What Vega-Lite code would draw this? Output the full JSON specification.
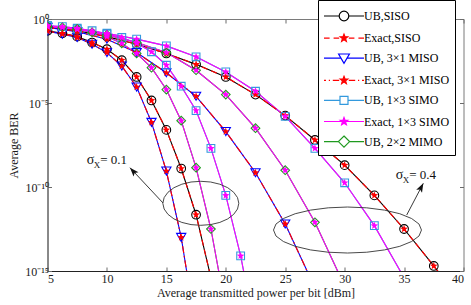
{
"$schema":"https://vega.github.io/schema/vega-lite/v6.json",
"width":416,"height":252,
"autosize":{"type":"none"},
"padding":{"left":47.5,"top":19,"right":7.5,"bottom":34},
"background":"white",
"config":{
 "view":{"stroke":"#7a7a7a","strokeWidth":1},
 "axis":{"labelFont":"Liberation Serif","titleFont":"Liberation Serif","labelFontSize":12,"titleFontSize":12,"labelColor":"#1a1a1a","titleColor":"#1a1a1a","titleFontWeight":"normal","grid":false,"tickColor":"#6a6a6a","domainColor":"#3a3a3a","tickSize":-4}
},
"datasets":{
"ber":[
{"s":"UB,SISO","g":1,"x":5,"y":0.1995},{"s":"UB,SISO","g":1,"x":6.25,"y":0.1413},{"s":"UB,SISO","g":1,"x":7.5,"y":0.08913},{"s":"UB,SISO","g":1,"x":8.75,"y":0.03981},{"s":"UB,SISO","g":1,"x":10,"y":0.01585},{"s":"UB,SISO","g":1,"x":11.25,"y":3.548e-3},{"s":"UB,SISO","g":1,"x":12.5,"y":3.548e-4},{"s":"UB,SISO","g":1,"x":13.75,"y":1.413e-5},{"s":"UB,SISO","g":1,"x":15,"y":2.512e-7},{"s":"UB,SISO","g":1,"x":16.25,"y":1.259e-9},{"s":"UB,SISO","g":1,"x":17.5,"y":2.239e-12},{"s":"UB,SISO","g":1,"x":18.75,"y":3.981e-16},
{"s":"UB,SISO","g":4,"x":5,"y":0.3162},{"s":"UB,SISO","g":4,"x":7.5,"y":0.1995},{"s":"UB,SISO","g":4,"x":10,"y":0.08913},{"s":"UB,SISO","g":4,"x":12.5,"y":0.03162},{"s":"UB,SISO","g":4,"x":15,"y":8.913e-3},{"s":"UB,SISO","g":4,"x":17.5,"y":1.995e-3},{"s":"UB,SISO","g":4,"x":20,"y":3.548e-4},{"s":"UB,SISO","g":4,"x":22.5,"y":3.162e-5},{"s":"UB,SISO","g":4,"x":25,"y":1.778e-6},{"s":"UB,SISO","g":4,"x":27.5,"y":6.31e-8},{"s":"UB,SISO","g":4,"x":30,"y":1.995e-9},{"s":"UB,SISO","g":4,"x":32.5,"y":3.162e-11},{"s":"UB,SISO","g":4,"x":35,"y":3.162e-13},{"s":"UB,SISO","g":4,"x":37.5,"y":1.995e-15},{"s":"UB,SISO","g":4,"x":40,"y":1e-17},
{"s":"UB, 3×1 MISO","g":1,"x":5,"y":0.19},{"s":"UB, 3×1 MISO","g":1,"x":6.25,"y":0.1259},{"s":"UB, 3×1 MISO","g":1,"x":7.5,"y":0.07943},{"s":"UB, 3×1 MISO","g":1,"x":8.75,"y":0.03162},{"s":"UB, 3×1 MISO","g":1,"x":10,"y":0.01},{"s":"UB, 3×1 MISO","g":1,"x":11.25,"y":1.585e-3},{"s":"UB, 3×1 MISO","g":1,"x":12.5,"y":8.913e-5},{"s":"UB, 3×1 MISO","g":1,"x":13.75,"y":7.079e-7},{"s":"UB, 3×1 MISO","g":1,"x":15,"y":8.913e-10},{"s":"UB, 3×1 MISO","g":1,"x":16.25,"y":1e-13},{"s":"UB, 3×1 MISO","g":1,"x":17.5,"y":3.162e-19},
{"s":"UB, 3×1 MISO","g":4,"x":5,"y":0.3162},{"s":"UB, 3×1 MISO","g":4,"x":7.5,"y":0.1778},{"s":"UB, 3×1 MISO","g":4,"x":10,"y":0.0631},{"s":"UB, 3×1 MISO","g":4,"x":12.5,"y":0.01},{"s":"UB, 3×1 MISO","g":4,"x":15,"y":6.31e-4},{"s":"UB, 3×1 MISO","g":4,"x":17.5,"y":2.512e-5},{"s":"UB, 3×1 MISO","g":4,"x":20,"y":1.995e-7},{"s":"UB, 3×1 MISO","g":4,"x":22.5,"y":7.079e-10},{"s":"UB, 3×1 MISO","g":4,"x":25,"y":6.31e-13},{"s":"UB, 3×1 MISO","g":4,"x":27.5,"y":1e-16},
{"s":"UB, 1×3 SIMO","g":1,"x":5,"y":0.3981},{"s":"UB, 1×3 SIMO","g":1,"x":6.25,"y":0.3548},{"s":"UB, 1×3 SIMO","g":1,"x":7.5,"y":0.2818},{"s":"UB, 1×3 SIMO","g":1,"x":8.75,"y":0.1995},{"s":"UB, 1×3 SIMO","g":1,"x":10,"y":0.1259},{"s":"UB, 1×3 SIMO","g":1,"x":11.25,"y":0.07943},{"s":"UB, 1×3 SIMO","g":1,"x":12.5,"y":0.03548},{"s":"UB, 1×3 SIMO","g":1,"x":13.75,"y":0.01122},{"s":"UB, 1×3 SIMO","g":1,"x":15,"y":1.778e-3},{"s":"UB, 1×3 SIMO","g":1,"x":16.25,"y":1e-4},{"s":"UB, 1×3 SIMO","g":1,"x":17.5,"y":3.548e-6},{"s":"UB, 1×3 SIMO","g":1,"x":18.75,"y":1.995e-8},{"s":"UB, 1×3 SIMO","g":1,"x":20,"y":3.162e-11},{"s":"UB, 1×3 SIMO","g":1,"x":21.25,"y":7.943e-15},{"s":"UB, 1×3 SIMO","g":1,"x":22.5,"y":2.512e-19},
{"s":"UB, 1×3 SIMO","g":4,"x":5,"y":0.3981},{"s":"UB, 1×3 SIMO","g":4,"x":7.5,"y":0.2512},{"s":"UB, 1×3 SIMO","g":4,"x":10,"y":0.1413},{"s":"UB, 1×3 SIMO","g":4,"x":12.5,"y":0.0631},{"s":"UB, 1×3 SIMO","g":4,"x":15,"y":0.02512},{"s":"UB, 1×3 SIMO","g":4,"x":17.5,"y":5.623e-3},{"s":"UB, 1×3 SIMO","g":4,"x":20,"y":7.079e-4},{"s":"UB, 1×3 SIMO","g":4,"x":22.5,"y":5.012e-5},{"s":"UB, 1×3 SIMO","g":4,"x":25,"y":1.585e-6},{"s":"UB, 1×3 SIMO","g":4,"x":27.5,"y":1.995e-8},{"s":"UB, 1×3 SIMO","g":4,"x":30,"y":1.778e-10},{"s":"UB, 1×3 SIMO","g":4,"x":32.5,"y":5.012e-13},{"s":"UB, 1×3 SIMO","g":4,"x":35,"y":3.981e-16},
{"s":"UB, 2×2 MIMO","g":1,"x":5,"y":0.3548},{"s":"UB, 2×2 MIMO","g":1,"x":6.25,"y":0.3162},{"s":"UB, 2×2 MIMO","g":1,"x":7.5,"y":0.2512},{"s":"UB, 2×2 MIMO","g":1,"x":8.75,"y":0.1585},{"s":"UB, 2×2 MIMO","g":1,"x":10,"y":0.08913},{"s":"UB, 2×2 MIMO","g":1,"x":11.25,"y":0.03548},{"s":"UB, 2×2 MIMO","g":1,"x":12.5,"y":8.913e-3},{"s":"UB, 2×2 MIMO","g":1,"x":13.75,"y":1.259e-3},{"s":"UB, 2×2 MIMO","g":1,"x":15,"y":6.31e-5},{"s":"UB, 2×2 MIMO","g":1,"x":16.25,"y":8.913e-7},{"s":"UB, 2×2 MIMO","g":1,"x":17.5,"y":1.413e-9},{"s":"UB, 2×2 MIMO","g":1,"x":18.75,"y":3.162e-13},{"s":"UB, 2×2 MIMO","g":1,"x":20,"y":5.012e-18},
{"s":"UB, 2×2 MIMO","g":4,"x":5,"y":0.3548},{"s":"UB, 2×2 MIMO","g":4,"x":7.5,"y":0.2512},{"s":"UB, 2×2 MIMO","g":4,"x":10,"y":0.1122},{"s":"UB, 2×2 MIMO","g":4,"x":12.5,"y":0.03981},{"s":"UB, 2×2 MIMO","g":4,"x":15,"y":0.01},{"s":"UB, 2×2 MIMO","g":4,"x":17.5,"y":8.913e-4},{"s":"UB, 2×2 MIMO","g":4,"x":20,"y":3.162e-5},{"s":"UB, 2×2 MIMO","g":4,"x":22.5,"y":3.162e-7},{"s":"UB, 2×2 MIMO","g":4,"x":25,"y":1e-9},{"s":"UB, 2×2 MIMO","g":4,"x":27.5,"y":7.943e-13},{"s":"UB, 2×2 MIMO","g":4,"x":30,"y":1.259e-16},
{"s":"Exact,SISO","g":1,"x":5,"y":0.1995},{"s":"Exact,SISO","g":1,"x":6.25,"y":0.1413},{"s":"Exact,SISO","g":1,"x":7.5,"y":0.08913},{"s":"Exact,SISO","g":1,"x":8.75,"y":0.03981},{"s":"Exact,SISO","g":1,"x":10,"y":0.01585},{"s":"Exact,SISO","g":1,"x":11.25,"y":3.548e-3},{"s":"Exact,SISO","g":1,"x":12.5,"y":3.548e-4},{"s":"Exact,SISO","g":1,"x":13.75,"y":1.413e-5},{"s":"Exact,SISO","g":1,"x":15,"y":2.512e-7},{"s":"Exact,SISO","g":1,"x":16.25,"y":1.259e-9},{"s":"Exact,SISO","g":1,"x":17.5,"y":2.239e-12},{"s":"Exact,SISO","g":1,"x":18.75,"y":3.981e-16},
{"s":"Exact,SISO","g":4,"x":5,"y":0.3162},{"s":"Exact,SISO","g":4,"x":7.5,"y":0.1995},{"s":"Exact,SISO","g":4,"x":10,"y":0.08913},{"s":"Exact,SISO","g":4,"x":12.5,"y":0.03162},{"s":"Exact,SISO","g":4,"x":15,"y":8.913e-3},{"s":"Exact,SISO","g":4,"x":17.5,"y":1.995e-3},{"s":"Exact,SISO","g":4,"x":20,"y":3.548e-4},{"s":"Exact,SISO","g":4,"x":22.5,"y":3.162e-5},{"s":"Exact,SISO","g":4,"x":25,"y":1.778e-6},{"s":"Exact,SISO","g":4,"x":27.5,"y":6.31e-8},{"s":"Exact,SISO","g":4,"x":30,"y":1.995e-9},{"s":"Exact,SISO","g":4,"x":32.5,"y":3.162e-11},{"s":"Exact,SISO","g":4,"x":35,"y":3.162e-13},{"s":"Exact,SISO","g":4,"x":37.5,"y":1.995e-15},{"s":"Exact,SISO","g":4,"x":40,"y":1e-17},
{"s":"Exact, 3×1 MISO","g":1,"x":5,"y":0.19},{"s":"Exact, 3×1 MISO","g":1,"x":6.25,"y":0.1259},{"s":"Exact, 3×1 MISO","g":1,"x":7.5,"y":0.07943},{"s":"Exact, 3×1 MISO","g":1,"x":8.75,"y":0.03162},{"s":"Exact, 3×1 MISO","g":1,"x":10,"y":0.01},{"s":"Exact, 3×1 MISO","g":1,"x":11.25,"y":1.585e-3},{"s":"Exact, 3×1 MISO","g":1,"x":12.5,"y":8.913e-5},{"s":"Exact, 3×1 MISO","g":1,"x":13.75,"y":7.079e-7},{"s":"Exact, 3×1 MISO","g":1,"x":15,"y":8.913e-10},{"s":"Exact, 3×1 MISO","g":1,"x":16.25,"y":1e-13},{"s":"Exact, 3×1 MISO","g":1,"x":17.5,"y":3.162e-19},
{"s":"Exact, 3×1 MISO","g":4,"x":5,"y":0.3162},{"s":"Exact, 3×1 MISO","g":4,"x":7.5,"y":0.1778},{"s":"Exact, 3×1 MISO","g":4,"x":10,"y":0.0631},{"s":"Exact, 3×1 MISO","g":4,"x":12.5,"y":0.01},{"s":"Exact, 3×1 MISO","g":4,"x":15,"y":6.31e-4},{"s":"Exact, 3×1 MISO","g":4,"x":17.5,"y":2.512e-5},{"s":"Exact, 3×1 MISO","g":4,"x":20,"y":1.995e-7},{"s":"Exact, 3×1 MISO","g":4,"x":22.5,"y":7.079e-10},{"s":"Exact, 3×1 MISO","g":4,"x":25,"y":6.31e-13},{"s":"Exact, 3×1 MISO","g":4,"x":27.5,"y":1e-16},
{"s":"Exact, 1×3 SIMO","g":1,"x":5,"y":0.3981},{"s":"Exact, 1×3 SIMO","g":1,"x":6.25,"y":0.3548},{"s":"Exact, 1×3 SIMO","g":1,"x":7.5,"y":0.2818},{"s":"Exact, 1×3 SIMO","g":1,"x":8.75,"y":0.1995},{"s":"Exact, 1×3 SIMO","g":1,"x":10,"y":0.1259},{"s":"Exact, 1×3 SIMO","g":1,"x":11.25,"y":0.07943},{"s":"Exact, 1×3 SIMO","g":1,"x":12.5,"y":0.03548},{"s":"Exact, 1×3 SIMO","g":1,"x":13.75,"y":0.01122},{"s":"Exact, 1×3 SIMO","g":1,"x":15,"y":1.778e-3},{"s":"Exact, 1×3 SIMO","g":1,"x":16.25,"y":1e-4},{"s":"Exact, 1×3 SIMO","g":1,"x":17.5,"y":3.548e-6},{"s":"Exact, 1×3 SIMO","g":1,"x":18.75,"y":1.995e-8},{"s":"Exact, 1×3 SIMO","g":1,"x":20,"y":3.162e-11},{"s":"Exact, 1×3 SIMO","g":1,"x":21.25,"y":7.943e-15},{"s":"Exact, 1×3 SIMO","g":1,"x":22.5,"y":2.512e-19},
{"s":"Exact, 1×3 SIMO","g":4,"x":5,"y":0.3981},{"s":"Exact, 1×3 SIMO","g":4,"x":7.5,"y":0.2512},{"s":"Exact, 1×3 SIMO","g":4,"x":10,"y":0.1413},{"s":"Exact, 1×3 SIMO","g":4,"x":12.5,"y":0.0631},{"s":"Exact, 1×3 SIMO","g":4,"x":15,"y":0.02512},{"s":"Exact, 1×3 SIMO","g":4,"x":17.5,"y":5.623e-3},{"s":"Exact, 1×3 SIMO","g":4,"x":20,"y":7.079e-4},{"s":"Exact, 1×3 SIMO","g":4,"x":22.5,"y":5.012e-5},{"s":"Exact, 1×3 SIMO","g":4,"x":25,"y":1.585e-6},{"s":"Exact, 1×3 SIMO","g":4,"x":27.5,"y":1.995e-8},{"s":"Exact, 1×3 SIMO","g":4,"x":30,"y":1.778e-10},{"s":"Exact, 1×3 SIMO","g":4,"x":32.5,"y":5.012e-13},{"s":"Exact, 1×3 SIMO","g":4,"x":35,"y":3.981e-16},
{"s":"Exact, 2×2 MIMO","g":1,"x":5,"y":0.3548},{"s":"Exact, 2×2 MIMO","g":1,"x":6.25,"y":0.3162},{"s":"Exact, 2×2 MIMO","g":1,"x":7.5,"y":0.2512},{"s":"Exact, 2×2 MIMO","g":1,"x":8.75,"y":0.1585},{"s":"Exact, 2×2 MIMO","g":1,"x":10,"y":0.08913},{"s":"Exact, 2×2 MIMO","g":1,"x":11.25,"y":0.03548},{"s":"Exact, 2×2 MIMO","g":1,"x":12.5,"y":8.913e-3},{"s":"Exact, 2×2 MIMO","g":1,"x":13.75,"y":1.259e-3},{"s":"Exact, 2×2 MIMO","g":1,"x":15,"y":6.31e-5},{"s":"Exact, 2×2 MIMO","g":1,"x":16.25,"y":8.913e-7},{"s":"Exact, 2×2 MIMO","g":1,"x":17.5,"y":1.413e-9},{"s":"Exact, 2×2 MIMO","g":1,"x":18.75,"y":3.162e-13},{"s":"Exact, 2×2 MIMO","g":1,"x":20,"y":5.012e-18},
{"s":"Exact, 2×2 MIMO","g":4,"x":5,"y":0.3548},{"s":"Exact, 2×2 MIMO","g":4,"x":7.5,"y":0.2512},{"s":"Exact, 2×2 MIMO","g":4,"x":10,"y":0.1122},{"s":"Exact, 2×2 MIMO","g":4,"x":12.5,"y":0.03981},{"s":"Exact, 2×2 MIMO","g":4,"x":15,"y":0.01},{"s":"Exact, 2×2 MIMO","g":4,"x":17.5,"y":8.913e-4},{"s":"Exact, 2×2 MIMO","g":4,"x":20,"y":3.162e-5},{"s":"Exact, 2×2 MIMO","g":4,"x":22.5,"y":3.162e-7},{"s":"Exact, 2×2 MIMO","g":4,"x":25,"y":1e-9},{"s":"Exact, 2×2 MIMO","g":4,"x":27.5,"y":7.943e-13},{"s":"Exact, 2×2 MIMO","g":4,"x":30,"y":1.259e-16}
],
"ell":[{"k":"a","x":17.9,"y":1.07e-11},{"k":"b","x":30.24,"y":2.75e-13}],
"arr":[{"k":"a","x":14.72,"y":1.12e-11,"x2":11.94,"y2":1.41e-9},{"k":"b","x":35.22,"y":2.14e-12,"x2":36.62,"y2":1.66e-10}],
"txt":[{"x":8.3,"y":3.8e-9,"t":"= 0.1"},{"x":34.3,"y":5.13e-10,"t":"= 0.4"}]
},
"resolve":{"axis":{"x":"independent","y":"independent"}},
"layer":[
{"data":{"name":"ber"},"transform":[{"filter":{"field":"s","oneOf":["UB,SISO","UB, 3×1 MISO","UB, 1×3 SIMO","UB, 2×2 MIMO"]}}],
 "mark":{"type":"line","strokeWidth":1.1,"clip":true},
 "encoding":{
  "x":{"field":"x","type":"quantitative","scale":{"domain":[5,40],"nice":false,"zero":false},"axis":{"values":[5,10,15,20,25,30,35,40],"title":"Average transmitted power per bit [dBm]","labelPadding":6,"titlePadding":3,"domainColor":"#222"}},
  "y":{"field":"y","type":"quantitative","scale":{"type":"log","domain":[1e-15,1],"nice":false},"axis":{"values":[1e-15,1e-10,1e-5,1],"labelExpr":"datum.value >= 0.5 ? '10⁰' : datum.value >= 5e-6 ? '10⁻⁵' : datum.value >= 5e-11 ? '10⁻¹⁰' : '10⁻¹⁵'","title":"Average BER","labelPadding":3,"titlePadding":4,"domainColor":"#555"}},
  "stroke":{"field":"s","type":"nominal","scale":{"domain":["Exact,SISO","Exact, 3×1 MISO","Exact, 1×3 SIMO","Exact, 2×2 MIMO","UB,SISO","UB, 3×1 MISO","UB, 1×3 SIMO","UB, 2×2 MIMO"],"range":["#ff0000","#ff0000","#ff00ff","#ff00ff","#000000","#0000ff","#3399dd","#1f9a1f"]},"legend":null},
  "detail":{"field":"g"}
 }},
{"data":{"name":"ber"},"transform":[{"filter":{"field":"s","oneOf":["Exact, 1×3 SIMO","Exact, 2×2 MIMO"]}}],
 "mark":{"type":"line","strokeWidth":1.1,"clip":true},
 "encoding":{
  "x":{"field":"x","type":"quantitative","axis":{"orient":"top","labels":false,"title":null,"domain":false,"values":[5,10,15,20,25,30,35,40]}},
  "y":{"field":"y","type":"quantitative","axis":{"orient":"right","labels":false,"title":null,"domain":false,"values":[1e-15,1e-10,1e-5,1]}},
  "stroke":{"field":"s","type":"nominal","legend":null},
  "detail":{"field":"g"}
 }},
{"data":{"name":"ber"},"transform":[{"filter":{"field":"s","equal":"Exact,SISO"}}],
 "mark":{"type":"line","strokeWidth":1.2,"strokeDash":[6,4],"clip":true},
 "encoding":{
  "x":{"field":"x","type":"quantitative","axis":null},
  "y":{"field":"y","type":"quantitative","axis":null},
  "stroke":{"field":"s","type":"nominal","legend":null},
  "detail":{"field":"g"}
 }},
{"data":{"name":"ber"},"transform":[{"filter":{"field":"s","equal":"Exact, 3×1 MISO"}}],
 "mark":{"type":"line","strokeWidth":1.2,"strokeDash":[7,3,1.5,3],"clip":true},
 "encoding":{
  "x":{"field":"x","type":"quantitative","axis":null},
  "y":{"field":"y","type":"quantitative","axis":null},
  "stroke":{"field":"s","type":"nominal","legend":null},
  "detail":{"field":"g"}
 }},
{"data":{"name":"ber"},"transform":[{"filter":{"field":"s","equal":"UB,SISO"}},{"filter":"datum.y >= 1e-15"}],
 "mark":{"type":"point","shape":"circle","filled":false,"size":75,"strokeWidth":1.1,"clip":true,"opacity":1,"color":"#000000"},
 "encoding":{"x":{"field":"x","type":"quantitative","axis":null},"y":{"field":"y","type":"quantitative","axis":null}}},
{"data":{"name":"ber"},"transform":[{"filter":{"field":"s","equal":"UB, 3×1 MISO"}},{"filter":"datum.y >= 1e-15"}],
 "mark":{"type":"point","shape":"triangle-down","filled":false,"size":85,"strokeWidth":1.1,"clip":true,"opacity":1,"color":"#0000ff"},
 "encoding":{"x":{"field":"x","type":"quantitative","axis":null},"y":{"field":"y","type":"quantitative","axis":null}}},
{"data":{"name":"ber"},"transform":[{"filter":{"field":"s","equal":"UB, 1×3 SIMO"}},{"filter":"datum.y >= 1e-15"}],
 "mark":{"type":"point","shape":"square","filled":false,"size":60,"strokeWidth":1.1,"clip":true,"opacity":1,"color":"#3399dd"},
 "encoding":{"x":{"field":"x","type":"quantitative","axis":null},"y":{"field":"y","type":"quantitative","axis":null}}},
{"data":{"name":"ber"},"transform":[{"filter":{"field":"s","equal":"UB, 2×2 MIMO"}},{"filter":"datum.y >= 1e-15"}],
 "mark":{"type":"point","shape":"diamond","filled":false,"size":75,"strokeWidth":1.1,"clip":true,"opacity":1,"color":"#1f9a1f"},
 "encoding":{"x":{"field":"x","type":"quantitative","axis":null},"y":{"field":"y","type":"quantitative","axis":null}}},
{"data":{"name":"ber"},"transform":[{"filter":{"field":"s","oneOf":["Exact,SISO","Exact, 3×1 MISO"]}},{"filter":"datum.y >= 1e-15"}],
 "mark":{"type":"point","filled":true,"shape":"M0,-4L1,-1.38L3.8,-1.24L1.62,0.53L2.35,3.24L0,1.7L-2.35,3.24L-1.62,0.53L-3.8,-1.24L-1,-1.38Z","size":4,"clip":true,"opacity":1,"color":"#ff0000"},
 "encoding":{"x":{"field":"x","type":"quantitative","axis":null},"y":{"field":"y","type":"quantitative","axis":null}}},
{"data":{"name":"ber"},"transform":[{"filter":{"field":"s","oneOf":["Exact, 1×3 SIMO","Exact, 2×2 MIMO"]}},{"filter":"datum.y >= 1e-15"}],
 "mark":{"type":"point","filled":true,"shape":"M0,-4L1,-1.38L3.8,-1.24L1.62,0.53L2.35,3.24L0,1.7L-2.35,3.24L-1.62,0.53L-3.8,-1.24L-1,-1.38Z","size":4,"clip":true,"opacity":1,"color":"#ff00ff"},
 "encoding":{"x":{"field":"x","type":"quantitative","axis":null},"y":{"field":"y","type":"quantitative","axis":null}}},
{"data":{"name":"ber"},"transform":[{"filter":"datum.x > 1000"}],
 "mark":{"type":"point","filled":false,"strokeWidth":1.2,"opacity":1},
 "encoding":{
  "x":{"field":"x","type":"quantitative","axis":null},
  "y":{"field":"y","type":"quantitative","axis":null},
  "color":{"field":"s","type":"nominal",
   "scale":{"domain":["UB,SISO","Exact,SISO","UB, 3×1 MISO","Exact, 3×1 MISO","UB, 1×3 SIMO","Exact, 1×3 SIMO","UB, 2×2 MIMO","Exact, 2×2 MIMO"],"range":["#000000","#ff0000","#0000ff","#ff0000","#3399dd","#ff00ff","#1f9a1f","#ff00ff"]},
   "legend":{"orient":"none","legendX":270.5,"legendY":-19,"title":null,
    "values":["UB,SISO","Exact,SISO","UB, 3×1 MISO","Exact, 3×1 MISO","UB, 1×3 SIMO","Exact, 1×3 SIMO","UB, 2×2 MIMO"],
    "fillColor":"white","strokeColor":"#000000","padding":5,"symbolSize":400,"symbolStrokeWidth":1.2,"labelFont":"Liberation Serif","labelFontSize":12,"labelColor":"#000000","labelOffset":19,"rowPadding":3.1}},
  "shape":{"field":"s","type":"nominal",
   "scale":{"domain":["UB,SISO","Exact,SISO","UB, 3×1 MISO","Exact, 3×1 MISO","UB, 1×3 SIMO","Exact, 1×3 SIMO","UB, 2×2 MIMO","Exact, 2×2 MIMO"],
    "range":["M-1,0L0.52,0M1.48,0L3,0M1.48,0A0.48,0.48 0 1 1 0.52,0A0.48,0.48 0 1 1 1.48,0","M-1,0L-0.44,0M-0.04,0L0.52,0M1.48,0L2.04,0M2.44,0L3,0M1,-0.4L1.1,-0.14L1.38,-0.124L1.162,0.052L1.236,0.324L1,0.17L0.764,0.324L0.838,0.052L0.62,-0.124L0.9,-0.14Z","M-1,0L0.7,0M1.3,0L3,0M0.46,-0.42L1.54,-0.42L1,0.5Z","M-1,0L-0.8,0M-0.52,0L-0.4,0M-0.12,0L0.52,0M1.48,0L2.12,0M2.4,0L2.52,0M2.8,0L3,0M1,-0.4L1.1,-0.14L1.38,-0.124L1.162,0.052L1.236,0.324L1,0.17L0.764,0.324L0.838,0.052L0.62,-0.124L0.9,-0.14Z","M-1,0L0.6,0M1.4,0L3,0M0.6,-0.4L1.4,-0.4L1.4,0.4L0.6,0.4Z","M-1,0L3,0M1,-0.4L1.1,-0.14L1.38,-0.124L1.162,0.052L1.236,0.324L1,0.17L0.764,0.324L0.838,0.052L0.62,-0.124L0.9,-0.14Z","M-1,0L0.44,0M1.56,0L3,0M1,-0.56L1.56,0L1,0.56L0.44,0Z","M-1,0L3,0"]}},
  "fill":{"field":"s","type":"nominal",
   "scale":{"domain":["UB,SISO","Exact,SISO","UB, 3×1 MISO","Exact, 3×1 MISO","UB, 1×3 SIMO","Exact, 1×3 SIMO","UB, 2×2 MIMO","Exact, 2×2 MIMO"],"range":["transparent","#ff0000","transparent","#ff0000","transparent","#ff00ff","transparent","#ff00ff"]}}
 }},
{"data":{"name":"ell"},"transform":[{"filter":"datum.k == 'a'"}],
 "mark":{"type":"point","shape":"M38,0L36.7,5.7L32.9,11L26.9,15.6L19,19.1L9.8,21.3L0,22L-9.8,21.3L-19,19.1L-26.9,15.6L-32.9,11L-36.7,5.7L-38,0L-36.7,-5.7L-32.9,-11L-26.9,-15.6L-19,-19.1L-9.8,-21.3L0,-22L9.8,-21.3L19,-19.1L26.9,-15.6L32.9,-11L36.7,-5.7Z","size":4,"filled":false,"color":"#333333","strokeWidth":0.9,"opacity":1},
 "encoding":{"x":{"field":"x","type":"quantitative","axis":null},"y":{"field":"y","type":"quantitative","axis":null}}},
{"data":{"name":"ell"},"transform":[{"filter":"datum.k == 'b'"}],
 "mark":{"type":"point","shape":"M74,0L71.5,6L64.1,11.5L52.3,16.3L37,19.9L19.2,22.2L0,23L-19.2,22.2L-37,19.9L-52.3,16.3L-64.1,11.5L-71.5,6L-74,0L-71.5,-6L-64.1,-11.5L-52.3,-16.3L-37,-19.9L-19.2,-22.2L0,-23L19.2,-22.2L37,-19.9L52.3,-16.3L64.1,-11.5L71.5,-6Z","size":4,"filled":false,"color":"#333333","strokeWidth":0.9,"opacity":1},
 "encoding":{"x":{"field":"x","type":"quantitative","axis":null},"y":{"field":"y","type":"quantitative","axis":null}}},
{"data":{"name":"arr"},
 "mark":{"type":"rule","color":"#222222","strokeWidth":0.9},
 "encoding":{"x":{"field":"x","type":"quantitative","axis":null},"y":{"field":"y","type":"quantitative","axis":null},"x2":{"field":"x2"},"y2":{"field":"y2"}}},
{"data":{"name":"arr"},"transform":[{"filter":"datum.k == 'a'"}],
 "mark":{"type":"point","shape":"M0,0L3.3,9L0,7L-3.3,9Z","size":4,"filled":true,"color":"#111111","angle":318,"opacity":1},
 "encoding":{"x":{"field":"x2","type":"quantitative","axis":null},"y":{"field":"y2","type":"quantitative","axis":null}}},
{"data":{"name":"arr"},"transform":[{"filter":"datum.k == 'b'"}],
 "mark":{"type":"point","shape":"M0,0L3.3,9L0,7L-3.3,9Z","size":4,"filled":true,"color":"#111111","angle":28,"opacity":1},
 "encoding":{"x":{"field":"x2","type":"quantitative","axis":null},"y":{"field":"y2","type":"quantitative","axis":null}}},
{"data":{"name":"txt"},
 "mark":{"type":"text","text":"σ","font":"Liberation Serif","fontSize":14,"align":"left","baseline":"middle","color":"#111111"},
 "encoding":{"x":{"field":"x","type":"quantitative","axis":null},"y":{"field":"y","type":"quantitative","axis":null}}},
{"data":{"name":"txt"},
 "mark":{"type":"text","text":"X","font":"Liberation Serif","fontSize":9,"align":"left","baseline":"middle","dx":7,"dy":5,"color":"#111111"},
 "encoding":{"x":{"field":"x","type":"quantitative","axis":null},"y":{"field":"y","type":"quantitative","axis":null}}},
{"data":{"name":"txt"},
 "mark":{"type":"text","font":"Liberation Serif","fontSize":13,"align":"left","baseline":"middle","dx":13.5,"color":"#111111"},
 "encoding":{"x":{"field":"x","type":"quantitative","axis":null},"y":{"field":"y","type":"quantitative","axis":null},"text":{"field":"t"}}}
]
}
